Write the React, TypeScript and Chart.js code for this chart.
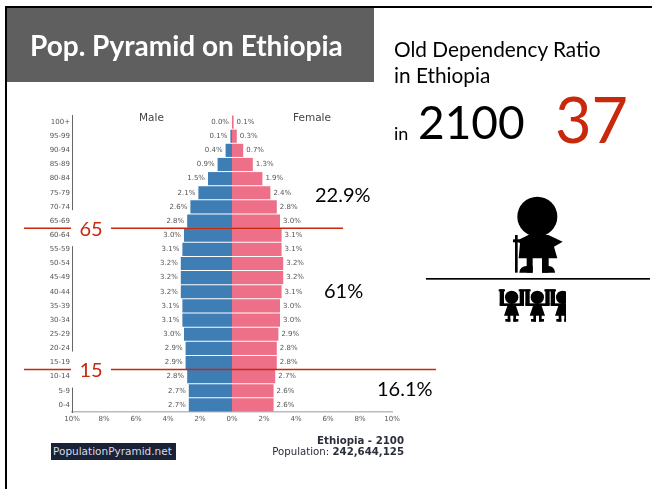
import React, { useEffect, useRef } from "react";
import { Chart, registerables } from "chart.js";

Chart.register(...registerables);

const ageGroups = ["100+","95-99","90-94","85-89","80-84","75-79","70-74","65-69","60-64","55-59","50-54","45-49","40-44","35-39","30-34","25-29","20-24","15-19","10-14","5-9","0-4"];
const maleShare = [0.0,0.1,0.4,0.9,1.5,2.1,2.6,2.8,3.0,3.1,3.2,3.2,3.2,3.1,3.1,3.0,2.9,2.9,2.8,2.7,2.7];
const femaleShare = [0.1,0.3,0.7,1.3,1.9,2.4,2.8,3.0,3.1,3.1,3.2,3.2,3.1,3.0,3.0,2.9,2.8,2.8,2.7,2.6,2.6];
const xTicks = [-10,-8,-6,-4,-2,0,2,4,6,8,10];
const ageCuts = [
  { label: "65", afterIndex: 7, x1: 24, x2: 343 },
  { label: "15", afterIndex: 17, x1: 24, x2: 436 },
];

const CHART_FONT = "'DejaVu Sans', sans-serif";
const SLIDE_FONT = "Lato, 'Open Sans', sans-serif";
const RED = "#c8280c";

const pyramidExtras = {
  id: "pyramidExtras",
  afterDraw(chart: any) {
    const { ctx } = chart;
    const y = chart.scales.y;
    const x = chart.scales.x;
    const left = x.getPixelForValue(-10);
    ctx.save();
    ctx.font = `7px ${CHART_FONT}`;
    ctx.fillStyle = "#555";
    ctx.textBaseline = "middle";
    ageGroups.forEach((_, i) => {
      const py = y.getPixelForValue(i);
      ctx.textAlign = "right";
      ctx.fillText(`${maleShare[i].toFixed(1)}%`, x.getPixelForValue(-maleShare[i]) - 3, py);
      ctx.textAlign = "left";
      ctx.fillText(`${femaleShare[i].toFixed(1)}%`, x.getPixelForValue(femaleShare[i]) + 3, py);
    });
    ageCuts.forEach((cut) => {
      const py = (y.getPixelForValue(cut.afterIndex) + y.getPixelForValue(cut.afterIndex + 1)) / 2;
      ctx.fillStyle = "#fff";
      ctx.fillRect(left - 2, py - 18, 4, 36);
      ctx.strokeStyle = RED;
      ctx.lineWidth = 1.5;
      ctx.beginPath();
      ctx.moveTo(cut.x1, py);
      ctx.lineTo(left - 1, py);
      ctx.moveTo(left + 39, py);
      ctx.lineTo(cut.x2, py);
      ctx.stroke();
      ctx.fillStyle = RED;
      ctx.font = `20px ${SLIDE_FONT}`;
      ctx.textAlign = "center";
      ctx.fillText(cut.label, left + 19, py + 1);
      ctx.font = `7px ${CHART_FONT}`;
    });
    ctx.restore();
  },
};

function Text({ x, y, size, children, color = "#000", bold = false, font = SLIDE_FONT, right = false }: any) {
  const pos: any = right ? { right: 652 - x } : { left: x };
  return (
    <div style={{ position: "absolute", ...pos, top: y, fontSize: size, color, fontWeight: bold ? 700 : 400, fontFamily: font, lineHeight: 1, whiteSpace: "nowrap" }}>
      {children}
    </div>
  );
}

function Kid({ cx }: { cx: number }) {
  return (
    <g>
      <circle cx={cx} cy={352} r={20} />
      <rect x={cx - 36} y={328} width={13} height={46} />
      <rect x={cx + 24} y={328} width={13} height={46} />
      <rect x={cx - 39} y={328} width={19} height={6} />
      <rect x={cx + 21} y={328} width={19} height={6} />
      <rect x={cx - 36} y={370} width={73} height={8} />
      <polygon points={`${cx - 11},372 ${cx + 11},372 ${cx + 23},407 ${cx - 23},407`} />
      <rect x={cx - 12} y={405} width={8} height={20} />
      <rect x={cx + 5} y={405} width={8} height={20} />
      <rect x={cx - 19} y={417} width={15} height={8} />
      <rect x={cx + 5} y={417} width={15} height={8} />
    </g>
  );
}

function Figures() {
  return (
    <svg viewBox="0 0 696 480" width={232} height={160} style={{ position: "absolute", left: 420, top: 180 }}>
      <defs>
        <clipPath id="kids"><rect x={230} y={320} width={208} height={110} /></clipPath>
      </defs>
      <circle cx={352} cy={110} r={60} />
      <polygon points="290,182 325,165 385,165 428,185 402,200 412,235 296,235 300,190" />
      <rect x={285} y={165} width={8} height={113} />
      <rect x={279} y={178} width={20} height={9} />
      <rect x={320} y={232} width={18} height={46} />
      <rect x={366} y={232} width={20} height={46} />
      <path d="M298,278 Q300,258 320,258 L338,258 L338,278 Z" />
      <path d="M405,278 Q403,258 386,258 L366,258 L366,278 Z" />
      <rect x={18} y={294} width={672} height={5} />
      <g clipPath="url(#kids)">
        <Kid cx={275} />
        <Kid cx={352} />
        <Kid cx={428} />
      </g>
    </svg>
  );
}

export default function App() {
  const ref = useRef<HTMLCanvasElement>(null);
  useEffect(() => {
    document.body.style.margin = "0";
    document.body.style.background = "#fff";
    const chart = new Chart(ref.current!, {
      type: "bar",
      data: {
        labels: ageGroups,
        datasets: [
          { label: "Male", data: maleShare.map((v) => -v), backgroundColor: "#3f7db5", barPercentage: 0.93, categoryPercentage: 1 },
          { label: "Female", data: femaleShare, backgroundColor: "#ee7088", barPercentage: 0.93, categoryPercentage: 1 },
        ],
      },
      options: {
        indexAxis: "y",
        responsive: false,
        animation: false,
        devicePixelRatio: 1,
        layout: { padding: { left: 32, right: 260, top: 115, bottom: 53 } },
        plugins: { legend: { display: false }, tooltip: { enabled: false }, title: { display: false } },
        scales: {
          x: {
            stacked: true,
            min: -10,
            max: 10,
            afterFit: (s: any) => { s.height = 24; },
            afterBuildTicks: (s: any) => { s.ticks = xTicks.map((value) => ({ value })); },
            grid: { display: false, tickLength: 2 },
            border: { color: "#b9bcc4", width: 1.5 },
            ticks: {
              font: { family: CHART_FONT, size: 7 },
              color: "#555",
              maxRotation: 0,
              autoSkip: false,
              padding: 1,
              callback: (v: any) => `${Math.abs(v)}%`,
            },
          },
          y: {
            stacked: true,
            afterFit: (s: any) => { s.width = 40; },
            grid: { display: false, tickLength: 1 },
            border: { color: "#666", width: 1 },
            ticks: { font: { family: CHART_FONT, size: 7 }, color: "#555", autoSkip: false, padding: 1 },
          },
        },
      } as any,
      plugins: [pyramidExtras],
    });
    return () => chart.destroy();
  }, []);

  return (
    <div style={{ position: "relative", width: 652, height: 489, overflow: "hidden", background: "#fff" }}>
      <canvas ref={ref} width={652} height={489} style={{ position: "absolute", left: 0, top: 0, display: "block" }} />
      <div style={{ position: "absolute", left: 5, top: 6, width: 647, height: 2, background: "#000" }} />
      <div style={{ position: "absolute", left: 5, top: 6, width: 2, height: 483, background: "#000" }} />
      <div style={{ position: "absolute", left: 7, top: 8, width: 367, height: 74, background: "#5f5f5f" }} />
      <Text x={30} y={31} size={28} bold color="#fff">Pop. Pyramid on Ethiopia</Text>
      <Text x={394} y={39} size={20.8}>Old Dependency Ratio</Text>
      <Text x={394} y={65} size={20.8}>in Ethiopia</Text>
      <Text x={394} y={124} size={18}>in</Text>
      <Text x={418} y={99} size={46}>2100</Text>
      <Text x={555} y={87} size={63} color={RED}>37</Text>
      <Text x={315} y={184} size={20}>22.9%</Text>
      <Text x={324} y={280} size={20}>61%</Text>
      <Text x={377} y={378} size={20}>16.1%</Text>
      <Text x={139} y={112} size={10.5} color="#444" font={CHART_FONT}>Male</Text>
      <Text x={293} y={112} size={10.5} color="#444" font={CHART_FONT}>Female</Text>
      <div style={{ position: "absolute", left: 51, top: 443, width: 125, height: 17, background: "#1a2238", color: "#d8dae0", fontFamily: CHART_FONT, fontSize: 10.5, lineHeight: "17px", paddingLeft: 2, boxSizing: "border-box", whiteSpace: "nowrap" }}>PopulationPyramid.net</div>
      <Text x={404} y={436} size={10.2} bold color="#2a2d3a" font={CHART_FONT} right>Ethiopia - 2100</Text>
      <Text x={404} y={447} size={10.2} color="#2a2d3a" font={CHART_FONT} right>Population: <b>242,644,125</b></Text>
      <Figures />
    </div>
  );
}
